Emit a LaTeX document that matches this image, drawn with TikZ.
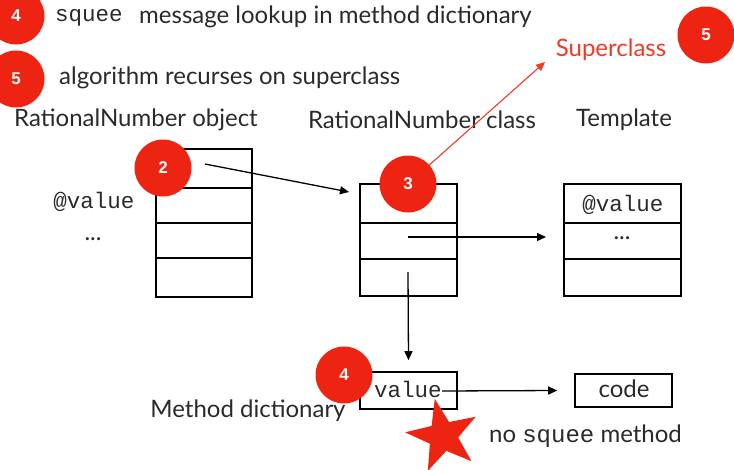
\documentclass[tikz,border=0pt]{standalone}
\usepackage{fontspec}
\setmainfont{Lato}
\setmonofont{Liberation Mono}
\newfontfamily\badgefont{Liberation Sans}
\usetikzlibrary{shapes.geometric, arrows.meta}
\definecolor{badgered}{HTML}{EE2412}
\definecolor{supred}{HTML}{F03A28}
\definecolor{ink}{HTML}{2A2A2A}
\tikzset{
  lbl/.style={inner sep=0pt, text=ink, font=\fontsize{24}{28}\selectfont},
  mono/.style={inner sep=0pt, text=ink, font=\ttfamily\fontsize{22.5}{26}\selectfont},
  badge/.style={circle, fill=badgered, minimum size=57, inner sep=0pt, text=white,
    font=\badgefont\bfseries\fontsize{17}{17}\selectfont},
  cell/.style={draw=black, line width=1.6pt, inner sep=0pt},
  ptr/.style={line width=1.3pt, -{Triangle[length=9pt, width=8pt]}},
}
\begin{document}
\begin{tikzpicture}[x=1pt, y=-1pt]
\useasboundingbox (0,0) rectangle (734,469);

% legend
\node[badge] (b4top) at (16,16) {4};
\node[mono, anchor=west] (sq) at (55,18) {squee};
\node[lbl, anchor=west] (msg) at (139,17) {message lookup in method dictionary};
\node[badge] (b5left) at (16,79) {5};
\node[lbl, anchor=west] (alg) at (59,78) {algorithm recurses on superclass};

% column titles
\node[lbl] (tobj) at (136,120) {RationalNumber object};
\node[lbl] (tcls) at (422,120) {RationalNumber class};
\node[lbl] (ttpl) at (624,120) {Template};

% object
\node[cell, minimum width=96, minimum height=148] (obj) at (204,223) {};
\foreach \yy in {188,223,258} \draw[line width=1.6pt] (obj.west |- 0,\yy) -- (obj.east |- 0,\yy);
\node[mono] (ivar) at (94,202) {@value};
\node[lbl] (idots) at (93,239) {...};

% class
\node[cell, minimum width=97, minimum height=112] (cls) at (408.5,240) {};
\foreach \yy in {223,259} \draw[line width=1.6pt] (cls.west |- 0,\yy) -- (cls.east |- 0,\yy);

% template
\node[cell, minimum width=117, minimum height=112] (tpl) at (622.5,240) {};
\foreach \yy in {223,259} \draw[line width=1.6pt] (tpl.west |- 0,\yy) -- (tpl.east |- 0,\yy);
\node[mono] (tval) at (623,205) {@value};
\node[lbl] (tdots) at (622,238) {...};

% method dictionary
\node[cell, minimum width=97, minimum height=37] (dict) at (408.5,390.5) {};
\node[mono] (dval) at (408,389) {value};
\node[lbl] (tdict) at (248,411) {Method dictionary};
\node[cell, minimum width=97, minimum height=33] (code) at (623.5,390.5) {};
\node[lbl] (tcode) at (624,389) {code};
\node[lbl, anchor=west] (nosq) at (489,436) {no \texttt{squee} method};

% superclass link
\node[text=supred, inner sep=0pt, font=\fontsize{24}{28}\selectfont] (sup) at (611,50) {Superclass};
\coordinate (suptip) at (545,62);
\coordinate (c3) at (408,184);
\draw[supred, line width=1.1pt, -{Triangle[length=9pt, width=8pt]}] (c3) -- (suptip);

% pointers
\coordinate (objslot) at (205,164);
\coordinate (clsin) at (349,192);
\draw[ptr] (objslot) -- (clsin);
\coordinate (clsslot) at (408,237);
\coordinate (tplin) at (546,237);
\draw[ptr] (clsslot) -- (tplin);
\coordinate (mdslot) at (408,272);
\draw[ptr] (mdslot) -- ([yshift=11pt]dict.north);
\coordinate (valend) at (442,391);
\draw[ptr] (valend) -- ([xshift=-17pt]code.west);

% badges and marker
\node[badge] (b2) at (163,168) {2};
\node[badge] (b3) at (408,184) {3};
\node[badge] (b4) at (344,375) {4};
\node[badge] (b5) at (706,35) {5};
\node[star, star points=5, star point ratio=2.5, fill=badgered, minimum size=76,
      inner sep=0pt, rotate=12.5] (nomethod) at (443,436) {};
\end{tikzpicture}
\end{document}
